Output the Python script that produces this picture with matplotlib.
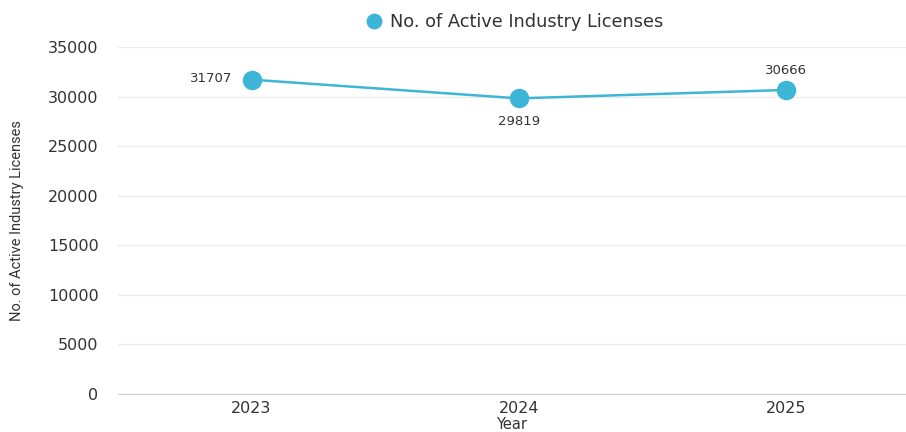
import matplotlib.pyplot as plt

years = ['2023', '2024', '2025']
licenses = [31707, 29819, 30666]
yticks = [0, 5000, 10000, 15000, 20000, 25000, 30000, 35000]

color = '#3db5d6'
text_color = '#333333'

plt.rcParams['font.family'] = ['DejaVu Sans']

fig = plt.figure(figsize=(9.06, 4.32), dpi=100)
ax = fig.add_axes([118 / 906, 1 - 394 / 432, 788 / 906, 347 / 432])

x = range(len(years))
ax.plot(x, licenses, color=color, lw=1.8, marker='o', ms=13,
        label='No. of Active Industry Licenses', zorder=3, clip_on=False)

# value labels: left, below, above
ax.annotate(f'{licenses[0]}', (0, licenses[0]), xytext=(-14, 1),
            textcoords='offset points', ha='right', va='center',
            fontsize=9.5, color=text_color)
ax.annotate(f'{licenses[1]}', (1, licenses[1]), xytext=(0, -12),
            textcoords='offset points', ha='center', va='top',
            fontsize=9.5, color=text_color)
ax.annotate(f'{licenses[2]}', (2, licenses[2]), xytext=(0, 9),
            textcoords='offset points', ha='center', va='bottom',
            fontsize=9.5, color=text_color)

ax.set_xlim(-0.5, 2.45)
ax.set_ylim(0, 35000)
ax.set_xticks(list(x))
ax.set_xticklabels(years)
ax.set_yticks(yticks)
ax.tick_params(length=0, labelsize=11.5, colors=text_color, pad=14)
ax.tick_params(axis='x', pad=5)

ax.grid(axis='y', color='#ebebeb', lw=1)
ax.set_axisbelow(True)
for s in ['top', 'right', 'left']:
    ax.spines[s].set_visible(False)
ax.spines['bottom'].set_color('#cccccc')

ax.set_xlabel('Year', fontsize=10.5, color=text_color, labelpad=1)
ax.yaxis.set_label_coords(-94 / 788, 0.5)
ax.set_ylabel('No. of Active Industry Licenses', fontsize=10.5, color=text_color,
              family=['Roboto', 'DejaVu Sans'])

leg = fig.legend(loc='center', bbox_to_anchor=(0.567, 1 - 22 / 432), frameon=False,
                 fontsize=12.8, handlelength=1, handletextpad=0.4, markerscale=0.8)
for t in leg.get_texts():
    t.set_color(text_color)
for h in leg.legend_handles:
    h.set_linestyle('none')

fig.savefig('out.png', dpi=100, facecolor='white')
